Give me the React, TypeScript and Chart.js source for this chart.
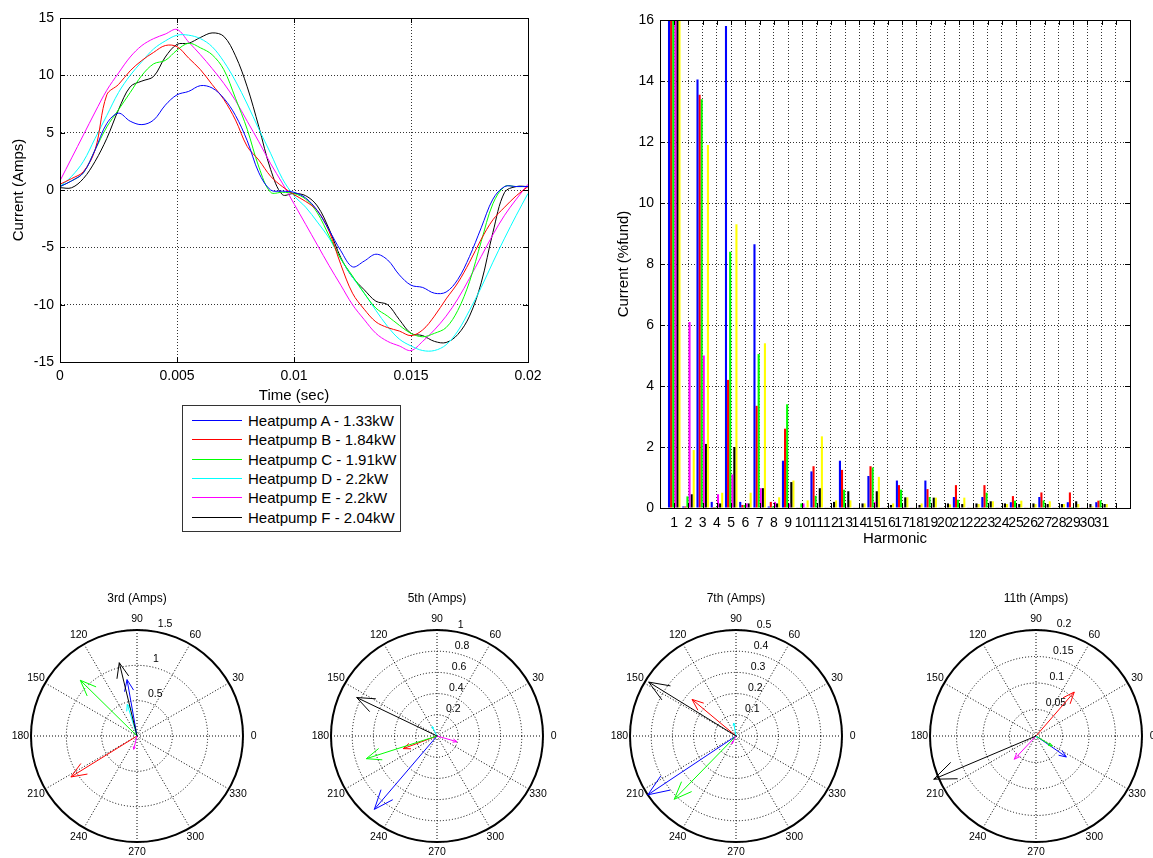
import React, { useEffect, useRef } from 'react';
import { Chart, registerables } from 'chart.js';

Chart.register(...registerables);

const FONT = '"Liberation Sans", Arial, Helvetica, sans-serif';
Chart.defaults.font.family = FONT;
Chart.defaults.color = '#000';

// ---------- waveform data ----------
const seriesNames = [
  'Heatpump A - 1.33kW',
  'Heatpump B - 1.84kW',
  'Heatpump C - 1.91kW',
  'Heatpump D - 2.2kW',
  'Heatpump E - 2.2kW',
  'Heatpump F - 2.04kW',
];
const seriesColors = ['#0000ff', '#ff0000', '#00ff00', '#00ffff', '#ff00ff', '#000000'];

const timeSec = [
  0, 0.0005, 0.001, 0.0015, 0.002, 0.0025, 0.003, 0.0035, 0.004, 0.0045,
  0.005, 0.0055, 0.006, 0.0065, 0.007, 0.0075, 0.008, 0.0085, 0.009, 0.0095,
  0.01, 0.0105, 0.011, 0.0115, 0.012, 0.0125, 0.013, 0.0135, 0.014, 0.0145,
  0.015, 0.0155, 0.016, 0.0165, 0.017, 0.0175, 0.018, 0.0185, 0.019, 0.0195, 0.02,
];
const currentA = [0.3, 0.8, 1.5, 3.5, 5.8, 6.7, 6.0, 5.7, 6.1, 7.4, 8.3, 8.6, 9.1, 8.9, 8.0, 6.5, 4.3, 1.5, 0.0, -0.1, -0.2, -0.7, -1.8, -3.5, -5.3, -6.7, -6.2, -5.6, -6.1, -7.4, -8.3, -8.5, -9.0, -8.9, -7.8, -5.8, -3.3, -0.8, 0.3, 0.3, 0.3];
const currentB = [0.5, 1.0, 1.6, 3.5, 8.3, 9.2, 10.4, 11.3, 12.0, 12.6, 12.5, 11.5, 10.5, 9.2, 7.9, 6.1, 3.8, 2.6, 1.2, 0.3, -0.4, -1.0, -1.8, -3.6, -6.5, -9.0, -10.4, -11.5, -12.0, -12.3, -12.7, -12.2, -11.0, -9.5, -8.1, -6.3, -4.3, -2.6, -1.5, -0.5, 0.3];
const currentC = [0.3, 0.8, 1.5, 3.5, 5.5, 7.0, 8.5, 10.0, 11.0, 11.3, 12.2, 12.8, 12.4, 11.8, 10.5, 8.0, 5.3, 2.0, -0.2, -0.2, -0.3, -0.8, -2.0, -4.0, -6.0, -7.5, -9.0, -10.3, -11.0, -11.8, -12.5, -12.8, -12.5, -12.0, -10.5, -8.0, -4.5, -1.2, 0.3, 0.3, 0.3];
const currentD = [0.3, 1.2, 2.5, 4.5, 6.5, 8.5, 10.0, 11.2, 12.3, 13.0, 13.5, 13.5, 13.2, 12.5, 11.2, 9.5, 7.5, 5.3, 3.2, 1.0, -0.5, -1.5, -2.8, -4.2, -6.0, -7.6, -9.0, -10.5, -11.9, -13.0, -13.6, -14.0, -14.0, -13.5, -12.3, -10.5, -8.5, -6.3, -4.2, -2.2, -0.3];
const currentE = [0.8, 2.8, 4.8, 6.8, 8.7, 10.2, 11.6, 12.6, 13.2, 13.6, 14.0, 12.9, 11.8, 10.6, 9.3, 7.8, 6.0, 4.2, 2.3, 0.6, -1.2, -3.0, -4.8, -6.6, -8.3, -10.0, -11.3, -12.5, -13.2, -13.6, -14.0, -13.2, -12.2, -11.0, -9.5, -7.7, -5.8, -3.9, -2.2, -0.8, 0.5];
const currentF = [0.2, 0.2, 1.0, 2.5, 4.5, 7.0, 9.0, 9.5, 9.9, 11.6, 12.7, 12.8, 13.3, 13.7, 13.4, 11.7, 9.0, 5.5, 1.8, -0.4, -0.3, -0.5, -1.4, -3.4, -5.9, -7.6, -8.7, -9.7, -10.0, -11.3, -12.5, -12.7, -13.2, -13.3, -12.6, -11.0, -8.1, -3.7, -0.2, 0.3, 0.3];
const currentSeries = [currentA, currentB, currentC, currentD, currentE, currentF];

// ---------- harmonic spectrum data (% of fundamental) ----------
const harmonicLabels = ['1', '2', '3', '4', '5', '6', '7', '8', '9', '10', '11', '12', '13', '14', '15', '16', '17', '18', '19', '20', '21', '22', '23', '24', '25', '26', '27', '28', '29', '30', '31'];
const barColors = ['#0000ff', '#ff0000', '#00ff00', '#ff00ff', '#000000', '#ffff00'];
const harmPctA = [100, 0.05, 14.05, 0.2, 15.8, 0.2, 8.65, 0.05, 1.55, 0.02, 1.2, 0.02, 1.55, 0.02, 1.05, 0.02, 0.9, 0.02, 0.9, 0.02, 0.36, 0.02, 0.36, 0.02, 0.19, 0.02, 0.36, 0.02, 0.19, 0.02, 0.19];
const harmPctB = [100, 0.05, 13.55, 0.03, 4.2, 0.1, 3.35, 0.2, 2.6, 0.02, 1.37, 0.02, 1.25, 0.02, 1.37, 0.02, 0.75, 0.02, 0.62, 0.02, 0.75, 0.02, 0.75, 0.02, 0.39, 0.02, 0.51, 0.02, 0.51, 0.02, 0.24];
const harmPctC = [100, 0.38, 13.4, 0.03, 8.4, 0.1, 5.05, 0.05, 3.4, 0.15, 0.4, 0.02, 0.6, 0.02, 1.33, 0.02, 0.6, 0.02, 0.36, 0.02, 0.27, 0.02, 0.5, 0.02, 0.24, 0.02, 0.25, 0.02, 0.03, 0.02, 0.25];
const harmPctD = [100, 6.1, 5.0, 0.45, 1.1, 0.15, 0.65, 0.2, 0.15, 0.15, 0.03, 0.02, 0.03, 0.02, 0.2, 0.02, 0.03, 0.02, 0.03, 0.02, 0.02, 0.02, 0.02, 0.02, 0.03, 0.02, 0.02, 0.02, 0.02, 0.02, 0.02];
const harmPctE = [100, 0.45, 2.1, 0.15, 2.0, 0.15, 0.65, 0.15, 0.85, 0.02, 0.65, 0.2, 0.55, 0.15, 0.55, 0.1, 0.35, 0.1, 0.34, 0.15, 0.13, 0.15, 0.22, 0.15, 0.13, 0.15, 0.13, 0.13, 0.22, 0.13, 0.13];
const harmPctF = [100, 1.9, 11.9, 0.5, 9.3, 0.5, 5.4, 0.35, 0.9, 0.25, 2.35, 0.25, 0.25, 0.15, 1.02, 0.15, 0.35, 0.15, 0.34, 0.12, 0.34, 0.13, 0.22, 0.13, 0.24, 0.13, 0.22, 0.13, 0.13, 0.05, 0.13];
const harmSeries = [harmPctA, harmPctB, harmPctC, harmPctD, harmPctE, harmPctF];

// ---------- phasor data (Amps, degrees) ----------
const polarAngleLabels = ['0', '330', '300', '270', '240', '210', '180', '150', '120', '90', '60', '30'];
const h3Mag = [0.81, 1.10, 1.125, 0.47, 0.194, 1.067];
const h3Ang = [100, 211.8, 135.5, 107, 256, 103.6];
const h5Mag = [0.91, 0.34, 0.70, 0.10, 0.196, 0.84];
const h5Ang = [229.5, 200.5, 197.8, 117, 344, 154.4];
const h7Mag = [0.50, 0.27, 0.417, 0.062, 0.041, 0.484];
const h7Ang = [213.7, 140.2, 225.7, 100, 242.5, 148.3];
const h11Mag = [0.0696, 0.11, 0.036, 0.004, 0.06, 0.2095];
const h11Ang = [325.3, 49, 328, 300, 227, 202.9];

const GRID = '#333';
const DOT = [1, 2];

const fmt = (v: number) => String(Number(Number(v).toFixed(4)));

const boxPlugin = {
  id: 'matlabBox',
  afterDraw(chart: any) {
    const { ctx, chartArea: a, scales } = chart;
    const L = 5;
    ctx.save();
    ctx.strokeStyle = '#000';
    ctx.lineWidth = 1;
    ctx.setLineDash([]);
    ctx.beginPath();
    const xs = scales.x;
    xs.ticks.forEach((_t: any, i: number) => {
      const px = Math.round(xs.getPixelForTick(i)) + 0.5;
      ctx.moveTo(px, a.bottom);
      ctx.lineTo(px, a.bottom - L);
      ctx.moveTo(px, a.top);
      ctx.lineTo(px, a.top + L);
    });
    const ys = scales.y;
    ys.ticks.forEach((_t: any, i: number) => {
      const py = Math.round(ys.getPixelForTick(i)) + 0.5;
      ctx.moveTo(a.left, py);
      ctx.lineTo(a.left + L, py);
      ctx.moveTo(a.right, py);
      ctx.lineTo(a.right - L, py);
    });
    ctx.stroke();
    ctx.strokeRect(Math.round(a.left) + 0.5, Math.round(a.top) + 0.5, Math.round(a.right - a.left), Math.round(a.bottom - a.top));
    ctx.restore();
  },
};

function makeCompassPlugin(mags: number[], angs: number[], step: number) {
  return {
    id: 'compass',
    afterDraw(chart: any) {
      const r = chart.scales.r;
      const ctx = chart.ctx;
      const cx = r.xCenter;
      const cy = r.yCenter;
      const R = r.getDistanceFromCenterForValue(r.max);
      ctx.save();
      ctx.setLineDash([]);
      // outer ring
      ctx.beginPath();
      ctx.arc(cx, cy, R, 0, Math.PI * 2);
      ctx.lineWidth = 2;
      ctx.strokeStyle = '#000';
      ctx.stroke();
      // angle labels
      ctx.fillStyle = '#000';
      ctx.font = `10.5px ${FONT}`;
      ctx.textAlign = 'center';
      ctx.textBaseline = 'middle';
      (chart.data.labels as string[]).forEach((lab, i) => {
        const p = r.getPointPosition(i, R * 1.1);
        ctx.fillText(lab, p.x, p.y);
      });
      // radial tick labels along 82 degrees
      const a82 = (82 * Math.PI) / 180;
      ctx.textAlign = 'left';
      ctx.textBaseline = 'bottom';
      r.ticks.forEach((t: any) => {
        if (t.value <= 0) return;
        const d = r.getDistanceFromCenterForValue(t.value + step / 20);
        ctx.fillText('  ' + fmt(t.value), cx + d * Math.cos(a82), cy - d * Math.sin(a82));
      });
      // arrows
      ctx.lineWidth = 1;
      mags.forEach((m, i) => {
        const th = (angs[i] * Math.PI) / 180;
        const pt = (al: number, pe: number) => {
          const x = m * (al * Math.cos(th) - pe * Math.sin(th));
          const y = m * (al * Math.sin(th) + pe * Math.cos(th));
          const d = r.getDistanceFromCenterForValue(Math.hypot(x, y));
          const an = Math.atan2(y, x);
          return [cx + d * Math.cos(an), cy - d * Math.sin(an)];
        };
        const o = pt(0, 0);
        const tip = pt(1, 0);
        const w1 = pt(0.8, 0.08);
        const w2 = pt(0.8, -0.08);
        ctx.strokeStyle = seriesColors[i];
        ctx.beginPath();
        ctx.moveTo(o[0], o[1]);
        ctx.lineTo(tip[0], tip[1]);
        ctx.lineTo(w1[0], w1[1]);
        ctx.moveTo(tip[0], tip[1]);
        ctx.lineTo(w2[0], w2[1]);
        ctx.stroke();
      });
      ctx.restore();
    },
  };
}

function waveConfig(): any {
  return {
    type: 'line',
    data: {
      datasets: currentSeries.map((s, i) => ({
        label: seriesNames[i],
        data: timeSec.map((t, j) => ({ x: t, y: s[j] })),
        borderColor: seriesColors[i],
        backgroundColor: seriesColors[i],
        borderWidth: 1,
        pointRadius: 0,
        tension: 0.35,
        fill: false,
      })),
    },
    options: {
      animation: false,
      responsive: false,
      events: [],
      layout: { padding: { left: 0, top: 18, right: 32, bottom: 0 } },
      plugins: { legend: { display: false }, tooltip: { enabled: false } },
      scales: {
        x: {
          type: 'linear',
          min: 0,
          max: 0.02,
          ticks: { stepSize: 0.005, padding: 6, font: { size: 14 }, color: '#000', callback: (v: number) => fmt(v) },
          grid: { color: GRID, drawTicks: false },
          border: { dash: DOT, color: '#000' },
          title: { display: true, text: 'Time (sec)', font: { size: 15 }, color: '#000', padding: 0 },
          afterFit: (s: any) => { s.height = 43; },
        },
        y: {
          type: 'linear',
          min: -15,
          max: 15,
          ticks: { stepSize: 5, padding: 6, font: { size: 14 }, color: '#000', callback: (v: number) => fmt(v) },
          grid: { color: GRID, drawTicks: false },
          border: { dash: DOT, color: '#000' },
          title: { display: true, text: 'Current (Amps)', font: { size: 15 }, color: '#000', padding: { top: 9.5, bottom: 0 } },
          afterFit: (s: any) => { s.width = 60; },
        },
      },
    },
    plugins: [boxPlugin],
  };
}

function barConfig(): any {
  const xLabels = ['', ...harmonicLabels, '', ''];
  const pad = (arr: number[]) => [null, ...arr, null, null];
  return {
    type: 'bar',
    data: {
      labels: xLabels,
      datasets: harmSeries.map((s, i) => ({
        label: seriesNames[i],
        data: pad(s),
        backgroundColor: barColors[i],
        borderWidth: 0,
        categoryPercentage: 0.88,
        barPercentage: 1.0,
      })),
    },
    options: {
      animation: false,
      responsive: false,
      events: [],
      layout: { padding: { left: 0, top: 20, right: 23, bottom: 2 } },
      plugins: { legend: { display: false }, tooltip: { enabled: false } },
      scales: {
        x: {
          type: 'category',
          offset: false,
          ticks: { autoSkip: false, maxRotation: 0, minRotation: 0, padding: 7, font: { size: 14 }, color: '#000' },
          grid: { color: GRID, drawTicks: false, offset: false },
          border: { dash: DOT, color: '#000' },
          title: { display: true, text: 'Harmonic', font: { size: 15 }, color: '#000', padding: 0 },
          afterFit: (s: any) => { s.height = 40; },
        },
        y: {
          type: 'linear',
          min: 0,
          max: 16,
          ticks: { stepSize: 2, padding: 6, font: { size: 14 }, color: '#000' },
          grid: { color: GRID, drawTicks: false },
          border: { dash: DOT, color: '#000' },
          title: { display: true, text: 'Current (%fund)', font: { size: 15 }, color: '#000', padding: { top: 25, bottom: 0 } },
          afterFit: (s: any) => { s.width = 70; },
        },
      },
    },
    plugins: [boxPlugin],
  };
}

function polarConfig(title: string, mags: number[], angs: number[], rmax: number, step: number): any {
  return {
    type: 'radar',
    data: { labels: polarAngleLabels, datasets: [] },
    options: {
      animation: false,
      responsive: false,
      events: [],
      layout: { padding: { left: 39, right: 39, top: 0, bottom: 20 } },
      plugins: {
        legend: { display: false },
        tooltip: { enabled: false },
        title: {
          display: true,
          text: title,
          color: '#000',
          font: { size: 12, weight: 'normal', family: FONT },
          padding: { top: 11.8, bottom: 24 },
        },
      },
      scales: {
        r: {
          min: 0,
          max: rmax,
          startAngle: 90,
          ticks: { display: false, stepSize: step },
          pointLabels: { display: false },
          grid: { circular: true, color: '#000', lineWidth: 1 },
          border: { dash: DOT },
          angleLines: { display: true, color: '#000', lineWidth: 1, borderDash: DOT },
        },
      },
    },
    plugins: [makeCompassPlugin(mags, angs, step)],
  };
}

function ChartCanvas(props: { make: () => any; left: number; top: number; width: number; height: number }) {
  const ref = useRef<HTMLCanvasElement>(null);
  useEffect(() => {
    const chart = new Chart(ref.current as HTMLCanvasElement, props.make());
    return () => chart.destroy();
  }, []);
  return (
    <canvas
      ref={ref}
      width={props.width}
      height={props.height}
      style={{ position: 'absolute', left: props.left, top: props.top, width: props.width, height: props.height }}
    />
  );
}

const polarSpecs = [
  { title: '3rd (Amps)', mags: h3Mag, angs: h3Ang, rmax: 1.5, step: 0.5, cx: 137 },
  { title: '5th (Amps)', mags: h5Mag, angs: h5Ang, rmax: 1, step: 0.2, cx: 437 },
  { title: '7th (Amps)', mags: h7Mag, angs: h7Ang, rmax: 0.5, step: 0.1, cx: 736 },
  { title: '11th (Amps)', mags: h11Mag, angs: h11Ang, rmax: 0.2, step: 0.05, cx: 1036 },
];

export default function App() {
  return (
    <div
      style={{
        position: 'fixed',
        left: 0,
        top: 0,
        width: 1153,
        height: 858,
        overflow: 'hidden',
        background: '#fff',
        fontFamily: FONT,
      }}
    >
      <ChartCanvas make={waveConfig} left={0} top={0} width={560} height={405} />
      <div
        style={{
          position: 'absolute',
          left: 182,
          top: 405,
          width: 219,
          height: 127,
          border: '1px solid #333',
          boxSizing: 'border-box',
          background: '#fff',
          paddingTop: 5,
        }}
      >
        {seriesNames.map((n, i) => (
          <div key={n} style={{ display: 'flex', alignItems: 'center', height: 19.3, fontSize: 15, color: '#000', whiteSpace: 'nowrap' }}>
            <div style={{ width: 50, height: 1, flex: '0 0 50px', background: seriesColors[i], marginLeft: 9, marginRight: 6 }} />
            <span>{n}</span>
          </div>
        ))}
      </div>
      <ChartCanvas make={barConfig} left={590} top={0} width={563} height={550} />
      {polarSpecs.map((p) => (
        <ChartCanvas
          key={p.title}
          make={() => polarConfig(p.title, p.mags, p.angs, p.rmax, p.step)}
          left={p.cx - 145}
          top={580}
          width={290}
          height={283}
        />
      ))}
    </div>
  );
}
